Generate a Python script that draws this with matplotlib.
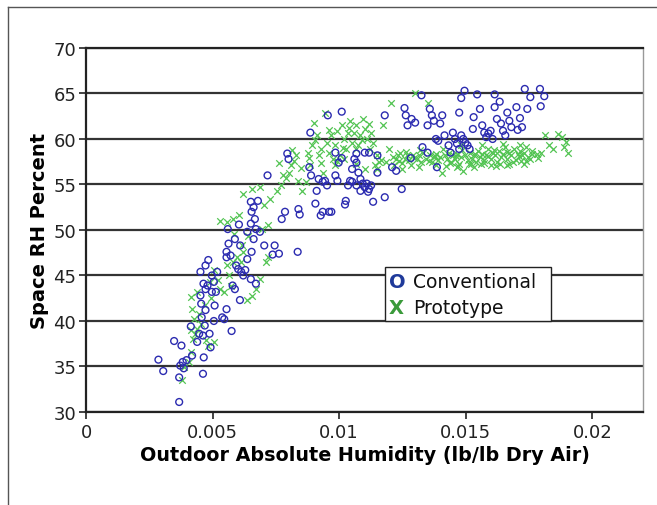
import matplotlib
matplotlib.use("Agg")
import matplotlib.pyplot as plt
from matplotlib.lines import Line2D
from matplotlib.patches import Rectangle
import numpy as np

# ---------------- data ----------------
# Conventional (blue circles): outdoor abs humidity, space RH
conv_x = [0.00286, 0.00305, 0.00348, 0.00368, 0.00368, 0.00377, 0.00372, 0.00386, 0.00382, 0.00397,
          0.00414, 0.00419, 0.00439, 0.00447, 0.00462, 0.00465, 0.00462, 0.00469, 0.00488, 0.00492,
          0.00505, 0.00457, 0.00455, 0.00472, 0.00508, 0.00452, 0.00472, 0.00480, 0.00464, 0.00452,
          0.00472, 0.00483, 0.00497, 0.00505, 0.00518, 0.00497, 0.00513, 0.00538, 0.00546, 0.00555,
          0.00575, 0.00555, 0.00563, 0.00560, 0.00555, 0.00571, 0.00588, 0.00593, 0.00601, 0.00613,
          0.00621, 0.00629, 0.00604, 0.00579, 0.00588, 0.00608, 0.00609, 0.00637, 0.00651, 0.00662,
          0.00654, 0.00667, 0.00679, 0.00651, 0.00671, 0.00662, 0.00687, 0.00671, 0.00651, 0.00637,
          0.00654, 0.00704, 0.00745, 0.00762, 0.00737, 0.00717, 0.00773, 0.00786, 0.00795, 0.00800,
          0.00836, 0.00839, 0.00844, 0.00886, 0.00882, 0.00889, 0.00906, 0.00927, 0.00935, 0.00960,
          0.00969, 0.00955, 0.00919, 0.00935, 0.00944, 0.00911, 0.00952, 0.00985, 0.00998, 0.01010,
          0.00993, 0.01026, 0.01023, 0.01035, 0.01043, 0.01051, 0.01060, 0.01068, 0.01076, 0.01084,
          0.01093, 0.01101, 0.01109, 0.01118, 0.01126, 0.01114, 0.01084, 0.01068, 0.01051, 0.01134,
          0.01180, 0.01101, 0.01118, 0.01068, 0.01151, 0.01180, 0.01209, 0.01225, 0.01247, 0.01258,
          0.01263, 0.01270, 0.01286, 0.01300, 0.01283, 0.01325, 0.01329, 0.01349, 0.01358, 0.01366,
          0.01374, 0.01382, 0.01391, 0.01386, 0.01399, 0.01407, 0.01349, 0.01416, 0.01432, 0.01440,
          0.01449, 0.01457, 0.01465, 0.01474, 0.01482, 0.01495, 0.01482, 0.01490, 0.01498, 0.01507,
          0.01515, 0.01474, 0.01528, 0.01531, 0.01545, 0.01556, 0.01565, 0.01573, 0.01581, 0.01589,
          0.01598, 0.01606, 0.01614, 0.01614, 0.01623, 0.01634, 0.01639, 0.01647, 0.01656, 0.01664,
          0.01672, 0.01680, 0.01700, 0.01714, 0.01722, 0.01705, 0.01733, 0.01743, 0.01755, 0.01793,
          0.01796, 0.01810, 0.00985, 0.01010, 0.01151]
conv_rh = [35.75, 34.5, 37.8, 33.8, 31.1, 37.3, 35.1, 34.8, 35.5, 35.7,
           39.4, 36.2, 37.7, 38.6, 34.2, 36.0, 38.4, 39.5, 38.6, 37.1,
           40.0, 40.4, 41.9, 41.2, 41.7, 42.8, 43.5, 43.9, 44.1, 45.4,
           46.1, 46.7, 45.0, 44.3, 45.4, 43.2, 43.2, 40.4, 40.2, 41.3,
           38.9, 47.6, 48.5, 50.1, 47.0, 47.2, 49.0, 46.1, 45.7, 45.4,
           45.0, 45.6, 50.6, 43.9, 43.5, 42.3, 48.3, 49.8, 53.1, 52.5,
           52.0, 51.2, 53.2, 50.7, 50.1, 49.0, 49.8, 44.1, 44.6, 46.8,
           47.6, 48.3, 48.3, 47.4, 47.3, 56.0, 51.2, 52.0, 58.4, 57.8,
           47.6, 52.3, 51.7, 60.7, 56.9, 56.0, 52.9, 51.6, 52.0, 52.0,
           52.0, 62.6, 55.6, 55.3, 55.4, 54.3, 54.9, 58.5, 57.4, 63.0,
           55.4, 53.2, 52.8, 54.9, 55.4, 56.7, 57.8, 57.4, 56.3, 55.6,
           55.1, 54.7, 55.1, 54.5, 54.9, 54.2, 54.3, 54.9, 55.3, 53.1,
           53.6, 58.5, 58.5, 58.4, 56.3, 62.6, 56.9, 56.5, 54.5, 63.4,
           62.6, 61.5, 62.2, 61.8, 57.9, 64.8, 59.1, 61.5, 63.3, 62.6,
           62.0, 60.0, 59.8, 56.9, 61.7, 62.6, 58.5, 60.4, 59.3, 58.5,
           60.7, 60.0, 59.5, 62.9, 64.5, 65.3, 60.4, 60.0, 59.6, 59.3,
           58.9, 58.9, 61.1, 62.4, 64.9, 63.3, 61.5, 60.7, 60.2, 60.6,
           60.9, 60.0, 64.9, 63.5, 62.2, 64.1, 61.7, 60.9, 60.4, 62.9,
           62.0, 61.3, 63.5, 62.3, 61.3, 61.0, 65.5, 63.3, 64.6, 65.5,
           63.6, 64.7, 56.0, 57.9, 58.2]

# Prototype (green crosses)
proto_x = [0.00381, 0.00389, 0.00406, 0.00414, 0.00422, 0.00430, 0.00439, 0.00414, 0.00425, 0.00447,
           0.00455, 0.00472, 0.00480, 0.00505, 0.00419, 0.00414, 0.00439, 0.00488, 0.00505, 0.00522,
           0.00530, 0.00546, 0.00571, 0.00563, 0.00555, 0.00579, 0.00596, 0.00613, 0.00621, 0.00637,
           0.00654, 0.00671, 0.00687, 0.00712, 0.00720, 0.00530, 0.00555, 0.00579, 0.00604, 0.00621,
           0.00654, 0.00687, 0.00695, 0.00720, 0.00704, 0.00728, 0.00753, 0.00762, 0.00770, 0.00778,
           0.00803, 0.00811, 0.00820, 0.00828, 0.00836, 0.00853, 0.00869, 0.00877, 0.00886, 0.00894,
           0.00899, 0.00911, 0.00919, 0.00927, 0.00935, 0.00944, 0.00952, 0.00960, 0.00969, 0.00977,
           0.00985, 0.00993, 0.01002, 0.01010, 0.01018, 0.01026, 0.01035, 0.01043, 0.01051, 0.01060,
           0.01068, 0.01076, 0.01084, 0.01093, 0.01101, 0.01109, 0.01118, 0.01126, 0.01134, 0.01142,
           0.01151, 0.01159, 0.01167, 0.01175, 0.01184, 0.01197, 0.01204, 0.01217, 0.01225, 0.01233,
           0.01242, 0.01250, 0.01258, 0.01267, 0.01275, 0.01283, 0.01291, 0.01300, 0.01308, 0.01316,
           0.01325, 0.01333, 0.01341, 0.01349, 0.01358, 0.01366, 0.01374, 0.01382, 0.01391, 0.01399,
           0.01407, 0.01416, 0.01424, 0.01432, 0.01440, 0.01449, 0.01457, 0.01465, 0.01474, 0.01482,
           0.01490, 0.01498, 0.01507, 0.01515, 0.01523, 0.01531, 0.01540, 0.01548, 0.01556, 0.01565,
           0.01573, 0.01581, 0.01589, 0.01598, 0.01606, 0.01614, 0.01623, 0.01631, 0.01639, 0.01647,
           0.01656, 0.01664, 0.01672, 0.01680, 0.01689, 0.01697, 0.01705, 0.01714, 0.01722, 0.01730,
           0.01738, 0.01747, 0.01755, 0.01763, 0.01780, 0.01796, 0.01813, 0.01829, 0.01846, 0.01863,
           0.01879, 0.01896, 0.01904, 0.01887, 0.01250, 0.01316, 0.01382, 0.01465, 0.01531, 0.01598,
           0.01664, 0.01730, 0.01482, 0.01565, 0.01647, 0.01714, 0.00985, 0.01018, 0.01068, 0.01101,
           0.01151,
           # extra crosses filling the dense band and upper cloud
           0.01212, 0.01238, 0.01262, 0.01296, 0.01321, 0.01354, 0.01378, 0.01412, 0.01437, 0.01461,
           0.01486, 0.01511, 0.01536, 0.01561, 0.01586, 0.01611, 0.01636, 0.01661, 0.01686, 0.01711,
           0.01736, 0.01760, 0.01785, 0.01420, 0.01470, 0.01520, 0.01570, 0.01620, 0.01670, 0.01720,
           0.00880, 0.00905, 0.00930, 0.00960, 0.00990, 0.01015, 0.01040, 0.01065, 0.01090, 0.01120,
           0.00790, 0.00815, 0.00850, 0.00615, 0.00640, 0.00585, 0.00495, 0.00470]
proto_rh = [33.5, 34.9, 35.5, 36.6, 38.0, 38.6, 39.1, 39.0, 40.2, 40.8,
            39.7, 37.9, 37.3, 37.7, 41.3, 42.6, 43.2, 44.3, 45.6, 44.5,
            43.5, 43.2, 43.9, 45.0, 46.1, 46.5, 47.0, 46.5, 47.6, 42.3,
            42.8, 43.5, 44.6, 46.5, 47.0, 51.0, 50.9, 51.2, 51.6, 54.0,
            54.5, 54.7, 50.1, 50.5, 52.7, 53.4, 54.3, 57.4, 54.9, 56.0,
            56.3, 57.1, 57.6, 58.2, 55.4, 54.3, 55.3, 58.5, 57.1, 59.3,
            61.8, 60.4, 58.2, 57.4, 56.3, 62.9, 59.6, 58.5, 60.4, 57.8,
            59.3, 60.9, 58.2, 61.5, 60.0, 58.9, 60.7, 62.0, 59.6, 60.7,
            61.5, 59.3, 60.4, 62.2, 61.1, 60.0, 61.6, 60.7, 59.6, 57.1,
            58.2, 57.5, 57.7, 61.5, 57.5, 58.9, 64.0, 57.1, 57.8, 58.2,
            58.5, 57.4, 57.8, 58.2, 57.7, 57.1, 58.2, 65.1, 57.8, 58.2,
            57.5, 58.5, 57.8, 64.0, 58.2, 57.5, 58.0, 58.4, 57.7, 58.0,
            56.3, 58.2, 57.8, 58.5, 57.5, 58.2, 57.8, 58.4, 57.3, 58.0,
            56.5, 58.2, 57.7, 58.5, 57.8, 58.2, 57.5, 58.7, 58.0, 58.4,
            57.7, 58.2, 58.9, 57.8, 58.5, 58.2, 57.5, 58.7, 58.0, 58.4,
            59.1, 57.8, 58.5, 58.2, 58.9, 57.7, 58.4, 58.7, 58.2, 58.5,
            59.1, 58.0, 57.8, 58.7, 58.3, 58.5, 60.4, 59.3, 58.9, 60.6,
            60.2, 59.7, 58.5, 59.1, 56.7, 56.9, 57.1, 56.9, 56.9, 57.1,
            57.1, 57.3, 59.3, 59.3, 59.5, 59.3, 57.1, 57.8, 57.3, 56.7,
            56.7,
            58.0, 57.6, 58.6, 57.9, 58.8, 57.6, 58.1, 58.9, 57.4, 58.1,
            58.8, 57.3, 58.3, 57.2, 58.1, 58.8, 57.3, 58.6, 57.5, 58.1,
            57.6, 58.4, 57.9, 57.0, 57.0, 57.2, 57.4, 57.0, 57.3, 57.6,
            57.9, 59.9, 58.9, 61.0, 57.6, 59.0, 61.2, 58.9, 59.9, 58.9,
            55.7, 58.8, 56.8, 48.4, 49.3, 49.6, 42.5, 41.8]

x_ticks = [0, 0.005, 0.01, 0.015, 0.02]
x_labels = ['0', '0.005', '0.01', '0.015', '0.02']
y_ticks = [30, 35, 40, 45, 50, 55, 60, 65, 70]

blue = '#2b2bb0'
green = '#52c452'

plt.rcParams['font.family'] = ['DejaVu Sans']

fig = plt.figure(figsize=(6.57, 5.06), dpi=100)
ax = fig.add_axes([0.1309, 0.1838, 0.8478, 0.7194])

for y in y_ticks:
    ax.axhline(y, color='#333333', lw=1.6, zorder=1)

ax.scatter(proto_x, proto_rh, marker='x', s=22, color=green, linewidths=0.9, zorder=2)
ax.scatter(conv_x, conv_rh, marker='o', s=24, facecolors='none', edgecolors=blue, linewidths=1.0, zorder=3)

ax.set_xlim(0, 0.022)
ax.set_ylim(30, 70)
ax.set_xticks(x_ticks)
ax.set_xticklabels(x_labels)
ax.set_yticks(y_ticks)
ax.tick_params(axis='both', labelsize=13, direction='out', length=5, width=1.2, colors='#222222')
ax.tick_params(axis='x', pad=3)
ax.tick_params(axis='y', pad=2)
for s in ['left', 'bottom', 'top']:
    ax.spines[s].set_color('#222222')
    ax.spines[s].set_linewidth(1.6)
ax.spines['right'].set_color('#999999')
ax.spines['right'].set_linewidth(1.0)

ax.set_xlabel('Outdoor Absolute Humidity (lb/lb Dry Air)', fontsize=13.8, fontweight='bold', labelpad=3)
ax.set_ylabel('Space RH Percent', fontsize=14, fontweight='bold', labelpad=3)

# legend box drawn by hand (text markers O / X)
fig.patches.append(Rectangle((385 / 657, 1 - 322 / 506), 166 / 657, 54 / 506,
                             transform=fig.transFigure, facecolor='white',
                             edgecolor='#222222', lw=1.0, zorder=5))
fig.text(389 / 657, 1 - 283 / 506, 'O', color='#1f3a9a', fontsize=14, fontweight='bold', va='center', zorder=6)
fig.text(413 / 657, 1 - 283 / 506, 'Conventional', color='#111111', fontsize=13.5, va='center', zorder=6)
fig.text(389 / 657, 1 - 309 / 506, 'X', color='#3a9a3a', fontsize=14, fontweight='bold', va='center', zorder=6)
fig.text(413 / 657, 1 - 309 / 506, 'Prototype', color='#111111', fontsize=13.5, va='center', zorder=6)

# outer frame (left and top edges)
fig.add_artist(Line2D([8 / 657, 8 / 657], [0, 1 - 8 / 506], transform=fig.transFigure, color='#555555', lw=1.0))
fig.add_artist(Line2D([8 / 657, 1], [1 - 8 / 506, 1 - 8 / 506], transform=fig.transFigure, color='#555555', lw=1.0))

fig.savefig('out.png', dpi=100)
